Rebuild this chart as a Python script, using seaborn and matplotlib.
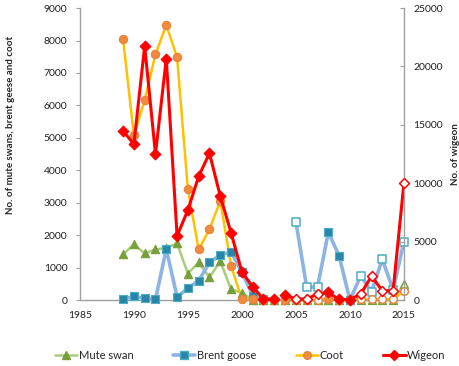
import numpy as np
import pandas as pd
import matplotlib
matplotlib.use('Agg')
import matplotlib.pyplot as plt
from matplotlib.lines import Line2D
import seaborn as sns

years = list(range(1989, 2016))
mute_swan = [1410, 1720, 1440, 1560, 1610, 1750, 820, 1160, 700, 1200, 330, 230, 0,
             0, 0, 0, 0, 0, 0, 0, 0, 0, 0, 0, 0, 0, 500]
brent_goose = [20, 120, 50, 20, 1570, 100, 360, 600, 1160, 1390, 1480, 870, 140,
               30, np.nan, np.nan, 2410, 400, 400, 2090, 1370, 0, 750, 260, 1260, 310, 1800]
coot = [8050, 5075, 6160, 7570, 8480, 7480, 3410, 1560, 2180, 3060, 1060, 20, 20,
        0, 0, 0, 0, 0, 0, 20, 0, 0, 20, 20, 20, 20, 280]
wigeon = [14490, 13350, 21740, 12500, 20660, 5500, 7700, 10600, 12570, 8900, 5760, 2420, 1140,
          100, 100, 430, 100, 100, 510, 660, 60, 50, 510, 2060, 800, 800, 10000]
# years shown with open (hollow) markers
hollow_years = [2005, 2006, 2007, 2011, 2012, 2013, 2014, 2015]

left_label = 'No. of mute swans, brent geese and coot'
right_label = 'No. of wigeon'

sns.set_theme(style='white')
plt.rcParams['font.family'] = ['Lato', 'DejaVu Sans']

df = pd.DataFrame({'year': years, 'Mute swan': mute_swan, 'Brent goose': brent_goose,
                   'Coot': coot, 'Wigeon': wigeon})
df['hollow'] = df['year'].isin(hollow_years)
df['seg'] = (df['year'] >= 2004).astype(int)

series = {
    'Mute swan': dict(line='#A9CD7C', mk='^', face='#77A03C', edge='#77A03C', s=36, lw=1.8),
    'Brent goose': dict(line='#8DB4E2', mk='s', face='#2A86A8', edge='#4BACC6', s=34, lw=2.6),
    'Coot': dict(line='#FFC000', mk='o', face='#F08A3C', edge='#E8823A', s=36, lw=1.8),
    'Wigeon': dict(line='#FF0000', mk='D', face='#FF0000', edge='#FF0000', s=30, lw=2.2),
}

fig = plt.figure(figsize=(4.59, 3.66), dpi=100)
ax = fig.add_axes([0.174, 0.180, 0.706, 0.798])
ax2 = ax.twinx()

for name, st in series.items():
    a = ax2 if name == 'Wigeon' else ax
    sub = df.dropna(subset=[name])
    sns.lineplot(data=sub, x='year', y=name, units='seg', estimator=None, color=st['line'],
                 lw=st['lw'], ax=a, legend=False, zorder=2, clip_on=False)
    sns.scatterplot(data=sub[~sub['hollow']], x='year', y=name, marker=st['mk'], s=st['s'],
                    color=st['face'], edgecolor=st['edge'], linewidth=0.8, ax=a, legend=False,
                    zorder=3, clip_on=False)
    sns.scatterplot(data=sub[sub['hollow']], x='year', y=name, marker=st['mk'], s=st['s'] * 0.85,
                    color='white', edgecolor=st['edge'], linewidth=1.1, ax=a, legend=False,
                    zorder=3, clip_on=False)

ax.set_xlim(1985, 2015)
ax.set_ylim(0, 9000)
ax2.set_ylim(0, 25000)
ax.set_xticks(range(1985, 2016, 5))
ax.set_yticks(range(0, 9001, 1000))
ax2.set_yticks(range(0, 25001, 5000))

for a in (ax, ax2):
    for sp in a.spines.values():
        sp.set_visible(False)
    a.tick_params(labelsize=7.5, colors='#222222', length=3, width=0.8)
    a.set_xlabel('')
ax.spines['left'].set_visible(True)
ax.spines['bottom'].set_visible(True)
ax2.spines['right'].set_visible(True)
for sp in (ax.spines['left'], ax.spines['bottom'], ax2.spines['right']):
    sp.set_color('#A0A0A0')
    sp.set_linewidth(1.0)
ax.tick_params(axis='both', color='#A0A0A0')
ax.tick_params(axis='x', pad=5)
ax.tick_params(axis='y', pad=6)
ax2.tick_params(axis='y', color='#A0A0A0', direction='in', pad=7)

ax.set_ylabel(left_label, fontsize=7, fontweight='bold')
ax.yaxis.set_label_coords(-0.2, 0.6)
ax2.set_ylabel(right_label, fontsize=7, fontweight='bold')
ax2.yaxis.set_label_coords(1.145, 0.5)

handles = [Line2D([0], [0], color=st['line'], lw=st['lw'], marker=st['mk'], markersize=5.5,
                  markerfacecolor=st['face'], markeredgecolor=st['edge'])
           for st in series.values()]
fig.legend(handles, list(series.keys()), loc='center', bbox_to_anchor=(0.545, 0.03), ncol=4,
           frameon=False, fontsize=8, handlelength=2.0, handletextpad=0.1, columnspacing=3.6)

fig.savefig('out.png', dpi=100)
